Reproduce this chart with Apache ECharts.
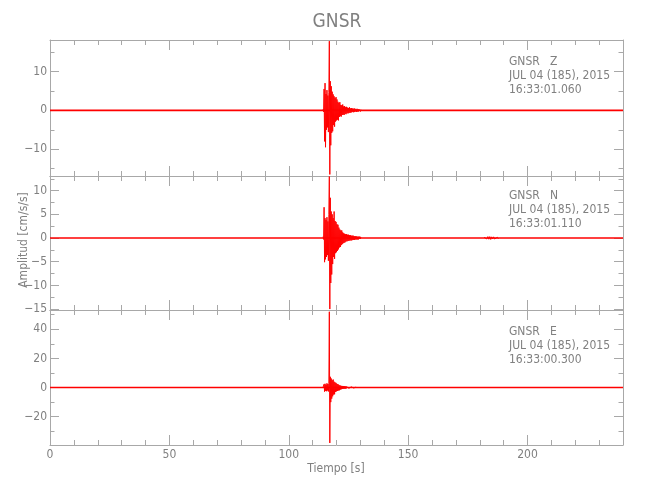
<!DOCTYPE html>
<html>
<head>
<meta charset="utf-8">
<script src="https://cdn.jsdelivr.net/npm/echarts@6/dist/echarts.min.js"></script>
<style>html,body{margin:0;padding:0;background:#fff}#c{width:650px;height:500px}</style>
</head>
<body>
<div id="c"></div>
<script>
// ---------- data ----------
const chartTitle = 'GNSR';
const yTitle = 'Amplitud [cm/s/s]';
const xTitle = 'Tiempo [s]';
const stationName = 'GNSR';
const components = ['Z', 'N', 'E'];
const dateLine = 'JUL 04 (185), 2015';
const startTimes = ['16:33:01.060', '16:33:01.110', '16:33:00.300'];

const xMajor = [0, 50, 100, 150, 200];
const xMinor = [10, 20, 30, 40, 60, 70, 80, 90, 110, 120, 130, 140, 160, 170, 180, 190, 210, 220, 230];

const yMinZ = -16.9, yMaxZ = 18.1;
const yMinN = -15.2, yMaxN = 13.1;
const yMinE = -39.4, yMaxE = 53.2;
const yMajorZ = [-10, 0, 10];
const yMinorZ = [-15, -5, 5, 15];
const yMajorN = [-15, -10, -5, 0, 5, 10];
const yMinorN = [-12.5, -7.5, -2.5, 2.5, 7.5, 12.5];
const yMajorE = [-20, 0, 20, 40];
const yMinorE = [-30, -10, 10, 30, 50];

// quiet baseline (seconds, value)
const baseTimes = [0, 240];
const baseValues = [0, 0];

// burst samples (start time, step in seconds)
const burstStart = 114.4;
const burstStep = 0.2;
const zBurst = [
  0.3, -0.4, 5.5, -8.0, 7.0, -9.5, 4.2, -5.0, 5.2, -4.4,
  3.8, -5.6, 4.6, 17.8, -16.5, 7.5, -9.0, 6.2, -5.8, 4.8,
  -5.4, 4.1, -3.8, 3.6, -4.2, 3.1, -2.9, 3.4, -2.6, 2.8,
  -2.4, 2.2, -2.6, 1.9, -1.7, 2.1, -1.5, 1.4, -1.6, 1.3,
  -1.2, 1.5, -1.1, 1.0, -1.2, 1.1, -0.9, 0.8, -1.0, 0.9,
  -0.7, 0.7, -0.8, 0.6, -0.7, 0.8, -0.6, 0.5, -0.6, 0.6,
  -0.5, 0.5, -0.4, 0.4, -0.5, 0.5, -0.4, 0.4, -0.3, 0.3,
  -0.4, 0.4, -0.3, 0.3, -0.3, 0.3, -0.2, 0.2, -0.3, 0.2
];
const nBurst = [
  0.3, -0.3, 6.5, -5.1, 4.2, -4.5, 3.8, -4.0, 4.4, -3.6,
  3.5, -4.8, 5.0, 13.0, -15.0, 8.5, -9.5, 5.6, -7.7, 5.0,
  -5.5, 4.2, -4.0, 5.6, -4.4, 3.6, -3.2, 3.4, -3.0, 2.9,
  -2.7, 2.8, -2.4, 2.2, -2.0, 1.8, -1.9, 1.6, -1.5, 1.6,
  -1.3, 1.2, -1.1, 1.0, -1.0, 0.9, -0.9, 0.8, -0.7, 0.8,
  -0.7, 0.7, -0.6, 0.7, -0.6, 0.6, -0.5, 0.6, -0.5, 0.5,
  -0.5, 0.5, -0.4, 0.5, -0.4, 0.4, -0.4, 0.4, -0.3, 0.4,
  -0.3, 0.3, -0.3, 0.3, -0.3, 0.3, -0.2, 0.3, -0.2, 0.2
];
const eBurst = [
  0.4, -0.5, 2.3, -2.8, 2.6, -2.2, 1.8, -2.5, 2.9, -2.0,
  2.4, -2.7, 3.0, 52.0, -38.0, 7.4, -10.0, 6.2, -7.6, 5.0,
  -6.0, 5.5, -4.8, 4.0, -4.6, 3.5, -3.0, 3.2, -2.6, 2.5,
  -2.3, 2.4, -2.0, 1.8, -1.9, 1.5, -1.4, 1.3, -1.2, 1.1,
  -1.0, 1.1, -0.9, 1.0, -0.8, 0.9, -0.8, 0.8, -0.7, 0.7,
  -0.6, 0.7, -0.6, 0.6, -0.5, 0.6, -0.5, 0.5, -0.4, 0.5,
  -0.4, 0.4, -0.4, 0.4, -0.3, 0.4, -0.3, 0.3, -0.3, 0.3
];
// small late wave on N near 182-188 s
const nWaveStart = 181.8;
const nWaveStep = 0.4;
const nWave = [0.15, -0.2, 0.25, -0.2, 0.3, -0.25, 0.3, -0.3, 0.25, -0.2, 0.25, -0.2, 0.2, -0.15, 0.15, -0.15];

// ---------- build ----------
const AX = '#a8a8a8', TX = '#808080', RED = '#ff0000';
const FONT = '"DejaVu Sans Condensed", "DejaVu Sans", sans-serif';

function samples(start, step, vals) {
  return vals.map((v, i) => [Number((start + i * step).toFixed(3)), v]);
}
function pairs(ts, vs) { return ts.map((t, i) => [t, vs[i]]); }
const fmt = v => String(v).replace('-', '\u2212');

const grids = [
  { left: 50, right: 27, top: 40, height: 136, containLabel: false, outerBoundsMode: 'none' },
  { left: 50, right: 27, top: 176, height: 134, containLabel: false, outerBoundsMode: 'none' },
  { left: 50, right: 27, top: 310, height: 135, containLabel: false, outerBoundsMode: 'none' }
];
const yMins = [yMinZ, yMinN, yMinE], yMaxs = [yMaxZ, yMaxN, yMaxE];
const yMaj = [yMajorZ, yMajorN, yMajorE], yMin_ = [yMinorZ, yMinorN, yMinorE];

const xAxis = [], yAxis = [];
function xAx(gi, pos, vals, len, line, label) {
  return {
    gridIndex: gi, type: 'value', min: 0, max: 240, position: pos,
    axisLine: { show: line, onZero: false, lineStyle: { color: AX, width: 1 } },
    axisTick: { show: true, inside: true, length: len, customValues: vals, lineStyle: { color: AX, width: 1 } },
    axisLabel: { show: label, customValues: vals, color: TX, fontFamily: FONT, fontSize: 12, margin: 4 },
    splitLine: { show: false }, minorTick: { show: false }
  };
}
function yAx(gi, pos, vals, len, line, label) {
  return {
    gridIndex: gi, type: 'value', min: yMins[gi], max: yMaxs[gi], position: pos,
    axisLine: { show: line, onZero: false, lineStyle: { color: AX, width: 1 } },
    axisTick: { show: true, inside: true, length: len, customValues: vals, lineStyle: { color: AX, width: 1 } },
    axisLabel: { show: label, customValues: vals, color: TX, fontFamily: FONT, fontSize: 12, margin: 3, formatter: fmt },
    splitLine: { show: false }, minorTick: { show: false }
  };
}
for (let g = 0; g < 3; g++) {
  xAxis.push(xAx(g, 'bottom', xMajor, 10, true, g === 2));
  xAxis.push(xAx(g, 'bottom', xMinor, 5, false, false));
  xAxis.push(xAx(g, 'top', xMajor, 10, true, false));
  xAxis.push(xAx(g, 'top', xMinor, 5, false, false));
  yAxis.push(yAx(g, 'left', yMaj[g], 9, true, true));
  yAxis.push(yAx(g, 'left', yMin_[g], 4.5, false, false));
  yAxis.push(yAx(g, 'right', yMaj[g], 9, true, false));
  yAxis.push(yAx(g, 'right', yMin_[g], 4.5, false, false));
}

function line(gi, data, w) {
  return {
    type: 'line', xAxisIndex: gi * 4, yAxisIndex: gi * 4, data: data,
    showSymbol: false, symbol: 'none', animation: false, silent: true,
    lineStyle: { color: RED, width: w }, clip: true
  };
}
const series = [
  line(0, pairs(baseTimes, baseValues), 1.6),
  line(1, pairs(baseTimes, baseValues), 1.6),
  line(2, pairs(baseTimes, baseValues), 1.6),
  line(0, samples(burstStart, burstStep, zBurst), 1),
  line(1, samples(burstStart, burstStep, nBurst), 1),
  line(2, samples(burstStart, burstStep, eBurst), 1),
  line(1, samples(nWaveStart, nWaveStep, nWave), 1)
];

const labelY = [[61.7, 76, 90.3], [195.5, 209.5, 223.5], [331.7, 345.7, 360]];
const graphic = [{
  type: 'text', x: 337, y: 22,
  style: { text: chartTitle, fill: TX, font: '19px ' + FONT, textAlign: 'center', textVerticalAlign: 'middle' }
}, {
  type: 'text', x: 24, y: 240, rotation: Math.PI / 2,
  style: { text: yTitle, fill: TX, font: '12px ' + FONT, textAlign: 'center', textVerticalAlign: 'middle' }
}, {
  type: 'text', x: 336, y: 469,
  style: { text: xTitle, fill: TX, font: '12px ' + FONT, textAlign: 'center', textVerticalAlign: 'middle' }
}];
for (let g = 0; g < 3; g++) {
  const lines = [stationName + '   ' + components[g], dateLine, startTimes[g]];
  lines.forEach((s, k) => graphic.push({
    type: 'text', x: 509, y: labelY[g][k],
    style: { text: s, fill: TX, font: '12px ' + FONT, textAlign: 'left', textVerticalAlign: 'middle' }
  }));
}

const chart = echarts.init(document.getElementById('c'), null, { renderer: 'canvas' });
chart.setOption({
  animation: false,
  backgroundColor: '#ffffff',
  grid: grids,
  xAxis: xAxis,
  yAxis: yAxis,
  series: series,
  graphic: graphic
});
</script>
</body>
</html>
